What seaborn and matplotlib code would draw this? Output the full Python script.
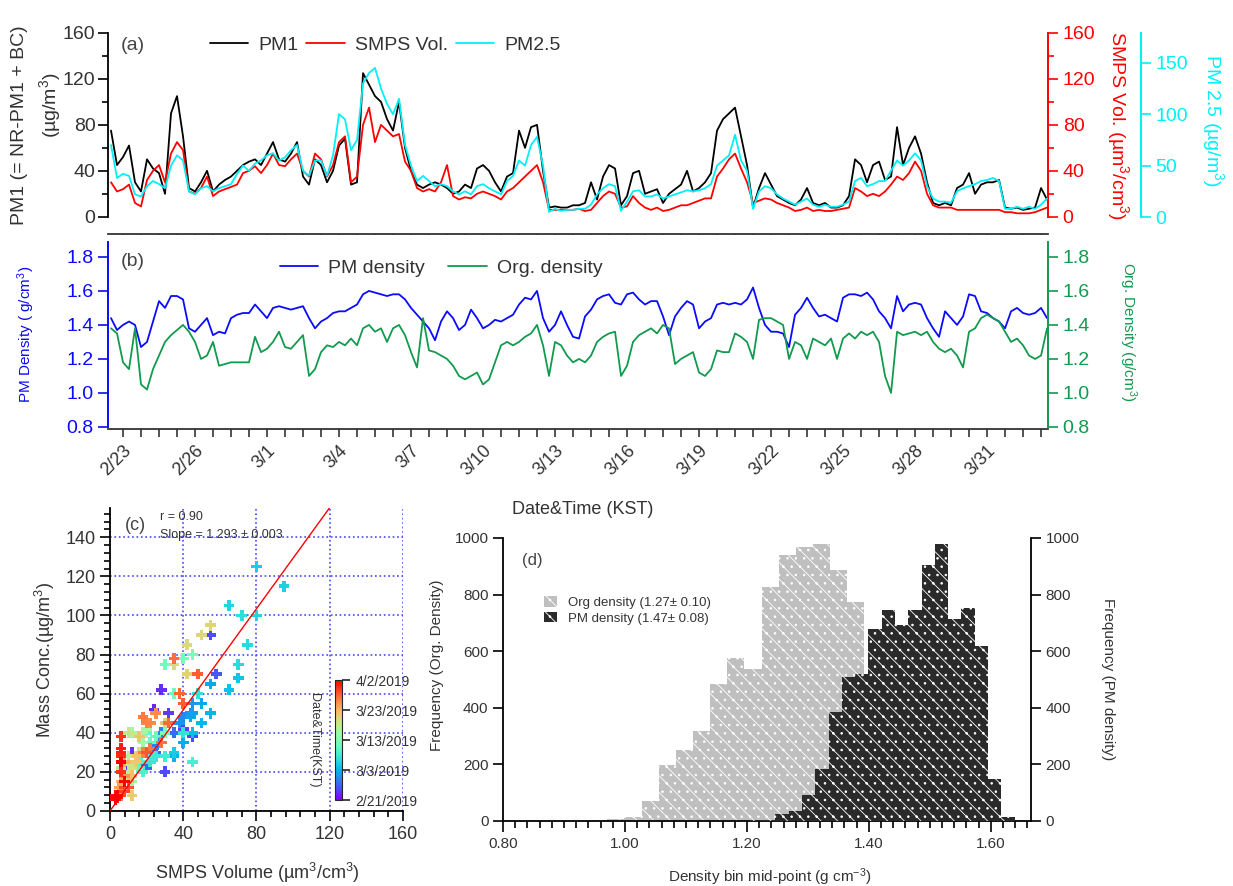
import numpy as np
import pandas as pd
import matplotlib
matplotlib.use("Agg")
import matplotlib.pyplot as plt
import matplotlib.dates as mdates
from matplotlib.ticker import MultipleLocator, FixedLocator
from matplotlib.patches import Patch
from matplotlib.lines import Line2D
from matplotlib.colors import Normalize
from matplotlib.cm import ScalarMappable
import seaborn as sns

sns.set_theme(style="ticks")
plt.rcParams["font.family"] = ["Liberation Sans", "DejaVu Sans"]
plt.rcParams["mathtext.fontset"] = "custom"
plt.rcParams["mathtext.rm"] = "Liberation Sans"
plt.rcParams["mathtext.default"] = "regular"
plt.rcParams["hatch.linewidth"] = 0.6

# 6-hourly readings, 2/22 12:00 -> 4/2 12:00 (KST)
times = pd.date_range("2019-02-22 12:00", periods=157, freq="6h")

pm1 = [75, 45, 52, 62, 30, 22, 50, 42, 38, 20,
       90, 105, 70, 25, 22, 30, 40, 22, 28, 32,
       35, 40, 45, 48, 50, 45, 55, 65, 50, 48,
       55, 65, 35, 28, 50, 45, 30, 40, 62, 68,
       28, 30, 125, 115, 105, 100, 85, 75, 100, 60,
       40, 28, 25, 28, 30, 28, 25, 20, 22, 28,
       25, 42, 45, 40, 30, 22, 35, 38, 75, 60,
       78, 80, 40, 8, 9, 8, 8, 10, 10,
       12, 30, 15, 35, 45, 42, 10, 18, 38, 40,
       20, 22, 24, 12, 20, 24, 28, 40, 22, 25,
       30, 38, 75, 85, 90, 95, 70, 45, 8, 25,
       38, 28, 18, 15, 12, 10, 15, 25, 12, 10,
       12, 8, 8, 10, 18, 50, 45, 30, 45, 48,
       32, 35, 78, 45, 60, 70, 55, 30, 12, 10,
       12, 10, 25, 28, 38, 20, 28, 30, 30, 32,
       8, 7, 8, 6, 7, 8, 25, 15]

smps_vol = [30, 22, 24, 28, 12, 9, 32, 40, 45, 30,
            55, 65, 58, 22, 20, 25, 35, 18, 22, 24,
            26, 28, 38, 40, 44, 38, 45, 55, 45, 44,
            50, 55, 40, 35, 55, 50, 35, 45, 65, 70,
            30, 35, 80, 95, 65, 80, 75, 70, 72, 48,
            40, 25, 22, 24, 22, 30, 45, 18, 15, 17,
            16, 20, 22, 20, 18, 15, 22, 25, 30, 35,
            40, 45, 30, 6, 6, 6, 6, 6, 7,
            5, 6, 12, 18, 22, 20, 8, 9, 18, 12,
            8, 6, 8, 5, 6, 8, 10, 10, 12, 14,
            16, 16, 35, 42, 50, 55, 42, 30, 12, 14,
            16, 15, 12, 10, 8, 5, 6, 8, 5, 6,
            5, 5, 6, 7, 8, 25, 22, 18, 20, 18,
            22, 28, 35, 32, 38, 48, 40, 20, 10, 8,
            8, 8, 6, 6, 6, 6, 6, 6, 6, 6,
            4, 4, 3, 3, 3, 4, 6, 8]

pm25 = [70, 38, 42, 40, 22, 20, 30, 35, 32, 28,
        50, 60, 55, 25, 22, 28, 30, 25, 28, 30,
        32, 42, 50, 45, 52, 55, 60, 62, 55, 58,
        65, 70, 45, 40, 55, 55, 40, 60, 100, 95,
        65, 75, 130, 140, 145, 125, 110, 100, 115, 70,
        50, 35, 40, 35, 30, 32, 30, 25, 22, 25,
        22, 30, 32, 28, 25, 22, 35, 40, 55, 50,
        70, 78, 50, 5, 8, 6, 7, 7, 8,
        8, 12, 22, 28, 32, 30, 6, 15, 25, 26,
        20, 20, 22, 18, 20, 22, 24, 26, 25, 26,
        28, 32, 50, 55, 60, 80, 55, 45, 8, 25,
        30, 28, 22, 18, 15, 12, 15, 18, 12, 10,
        12, 10, 10, 12, 15, 35, 38, 30, 32, 35,
        35, 45, 55, 50, 55, 62, 55, 30, 18, 15,
        15, 14, 25, 28, 30, 32, 35, 36, 38, 35,
        8, 8, 10, 8, 10, 8, 12, 18]

pm_density = [1.44, 1.37, 1.40, 1.42, 1.40, 1.27, 1.30, 1.42, 1.54, 1.50,
              1.57, 1.57, 1.55, 1.38, 1.36, 1.40, 1.44, 1.34, 1.36, 1.35,
              1.44, 1.46, 1.47, 1.47, 1.52, 1.48, 1.44, 1.50, 1.51, 1.50,
              1.49, 1.50, 1.51, 1.44, 1.38, 1.42, 1.44, 1.47, 1.48, 1.48,
              1.50, 1.52, 1.58, 1.60, 1.59, 1.58, 1.57, 1.58, 1.58, 1.55,
              1.50, 1.46, 1.42, 1.38, 1.31, 1.42, 1.48, 1.44, 1.37, 1.40,
              1.49, 1.44, 1.38, 1.40, 1.43, 1.42, 1.44, 1.46, 1.52, 1.56,
              1.55, 1.60, 1.44, 1.36, 1.40, 1.48, 1.40, 1.33, 1.32,
              1.45, 1.49, 1.55, 1.57, 1.58, 1.53, 1.52, 1.58, 1.59, 1.55,
              1.52, 1.54, 1.54, 1.45, 1.34, 1.45, 1.50, 1.54, 1.52, 1.38,
              1.42, 1.44, 1.52, 1.53, 1.52, 1.53, 1.52, 1.55, 1.62, 1.50,
              1.40, 1.36, 1.36, 1.35, 1.27, 1.46, 1.50, 1.56, 1.50, 1.45,
              1.46, 1.44, 1.42, 1.56, 1.58, 1.58, 1.57, 1.59, 1.55, 1.48,
              1.44, 1.38, 1.57, 1.48, 1.52, 1.53, 1.52, 1.44, 1.38, 1.33,
              1.48, 1.44, 1.40, 1.45, 1.58, 1.57, 1.48, 1.47, 1.44, 1.42,
              1.38, 1.48, 1.50, 1.47, 1.46, 1.47, 1.50, 1.44]

org_density = [1.38, 1.35, 1.18, 1.14, 1.38, 1.05, 1.02, 1.14, 1.22, 1.30,
               1.34, 1.37, 1.40, 1.36, 1.30, 1.20, 1.22, 1.30, 1.16, 1.17,
               1.18, 1.18, 1.18, 1.18, 1.33, 1.24, 1.26, 1.30, 1.36, 1.27,
               1.26, 1.30, 1.34, 1.10, 1.14, 1.24, 1.28, 1.27, 1.30, 1.28,
               1.32, 1.28, 1.38, 1.40, 1.36, 1.38, 1.30, 1.38, 1.40, 1.34,
               1.24, 1.15, 1.44, 1.25, 1.24, 1.22, 1.20, 1.16, 1.10, 1.08,
               1.10, 1.12, 1.05, 1.08, 1.18, 1.28, 1.30, 1.28, 1.30, 1.33,
               1.35, 1.40, 1.28, 1.10, 1.30, 1.28, 1.22, 1.18, 1.20,
               1.18, 1.22, 1.30, 1.33, 1.35, 1.36, 1.10, 1.16, 1.30, 1.34,
               1.36, 1.38, 1.35, 1.40, 1.38, 1.17, 1.20, 1.22, 1.24, 1.12,
               1.10, 1.14, 1.25, 1.24, 1.24, 1.35, 1.33, 1.30, 1.20, 1.43,
               1.44, 1.44, 1.42, 1.40, 1.20, 1.30, 1.28, 1.20, 1.32, 1.30,
               1.28, 1.32, 1.20, 1.32, 1.35, 1.32, 1.36, 1.34, 1.36, 1.30,
               1.10, 1.00, 1.36, 1.34, 1.35, 1.36, 1.34, 1.36, 1.30, 1.26,
               1.24, 1.26, 1.22, 1.15, 1.36, 1.38, 1.44, 1.46, 1.44, 1.42,
               1.36, 1.30, 1.32, 1.28, 1.22, 1.20, 1.22, 1.38]

# histogram counts (panel d)
org_bin_start, org_bin_width = 0.971, 0.0281
org_counts = [8, 14, 70, 197, 250, 318, 483, 577, 538, 827, 939, 968, 980, 886, 774]
pm_bin_start, pm_bin_width = 1.203, 0.0218
pm_counts = [3, 3, 24, 34, 91, 183, 385, 510, 520, 677, 744, 691, 744, 906, 980,
             713, 753, 618, 150, 14]

slope, slope_err, r_val = 1.293, 0.003, 0.90
cbar_dates = ["2019-02-21", "2019-03-03", "2019-03-13", "2019-03-23", "2019-04-02"]

TXT = "#333333"
BLUE = "#0a0aff"
GREEN = "#129a4e"
CYAN = "#00f0f8"
W, H = 1233, 886


def fx(px):
    return px / W


def fy(py):
    return 1 - py / H


fig = plt.figure(figsize=(12.33, 8.86), dpi=100)
ax_a = fig.add_axes([0.0876, 0.7359, 0.7624, 0.2269])
ax_b = fig.add_axes([0.0876, 0.5158, 0.7624, 0.219])
ax_c = fig.add_axes([0.0892, 0.0847, 0.2376, 0.342])
ax_d = fig.add_axes([0.408, 0.0734, 0.4282, 0.3194])

xmin, xmax = pd.Timestamp("2019-02-22 09:00"), pd.Timestamp("2019-04-02 13:00")
d0 = pd.Timestamp("2019-02-23")
major_days = [d0 + pd.Timedelta(days=3 * k) for k in range(13)]
minor_days = [d0 + pd.Timedelta(hours=18 * k) for k in range(52)]
major_num = mdates.date2num(major_days)
minor_num = mdates.date2num(minor_days)

# ---------------- panel (a)
sns.lineplot(x=times, y=pm1, ax=ax_a, color="black", lw=1.3, estimator=None)
ax_a.set_xlim(xmin, xmax)
ax_a.set_ylim(-15, 160)
ax_a.spines[["top", "right"]].set_visible(False)
ax_a.spines["left"].set_bounds(0, 160)
ax_a.spines["left"].set_linewidth(1.3)
ax_a.spines["left"].set_color("black")
ax_a.spines["bottom"].set_color(TXT)
ax_a.spines["bottom"].set_linewidth(1.3)
ax_a.set_yticks([0, 40, 80, 120, 160])
ax_a.yaxis.set_minor_locator(MultipleLocator(20))
ax_a.set_xticks(major_num)
ax_a.xaxis.set_minor_locator(FixedLocator(minor_num))
ax_a.tick_params(axis="x", which="both", direction="out", length=6, width=1.2,
                 labelbottom=False, color=TXT)
ax_a.tick_params(axis="y", which="both", direction="out", width=1.2, labelsize=14,
                 labelcolor=TXT, color="black", pad=2)
ax_a.tick_params(axis="y", which="major", length=7)
ax_a.tick_params(axis="y", which="minor", length=4)
ax_a.set_xlabel("")
ax_a.set_ylabel("")

ax_r = ax_a.twinx()
sns.lineplot(x=times, y=smps_vol, ax=ax_r, color="red", lw=1.3, estimator=None)
ax_r.set_ylim(-15, 160)
ax_r.spines[["top", "left", "bottom"]].set_visible(False)
ax_r.spines["right"].set_bounds(0, 160)
ax_r.spines["right"].set_color("red")
ax_r.spines["right"].set_linewidth(1.4)
ax_r.set_yticks([0, 40, 80, 120, 160])
ax_r.yaxis.set_minor_locator(MultipleLocator(20))
ax_r.tick_params(axis="y", which="both", direction="out", width=1.2, labelsize=14,
                 colors="red")
ax_r.tick_params(axis="y", which="major", length=7)
ax_r.tick_params(axis="y", which="minor", length=4)
ax_r.set_ylabel("")

ax_p = ax_a.twinx()
sns.lineplot(x=times, y=pm25, ax=ax_p, color=CYAN, lw=1.3, estimator=None)
ax_p.set_ylim(-16.5, 179)
ax_p.spines[["top", "left", "bottom"]].set_visible(False)
ax_p.spines["right"].set_position(("axes", 1.099))
ax_p.spines["right"].set_bounds(0, 179)
ax_p.spines["right"].set_color(CYAN)
ax_p.spines["right"].set_linewidth(1.4)
ax_p.set_yticks([0, 50, 100, 150])
ax_p.tick_params(axis="y", which="both", direction="out", width=1.2, length=7,
                 labelsize=14, colors=CYAN)
ax_p.set_ylabel("")
ax_p.set_xlim(xmin, xmax)

fig.legend([Line2D([], [], color="black", lw=1.3), Line2D([], [], color="red", lw=1.3),
            Line2D([], [], color=CYAN, lw=1.3)],
           ["PM1", "SMPS Vol.", "PM2.5"], ncol=3, loc="center left",
           bbox_to_anchor=(fx(192), fy(45)), frameon=False, fontsize=14,
           handlelength=2.0, columnspacing=0.4, handletextpad=0.5,
           labelcolor=TXT)

fig.text(fx(20), fy(125), "PM1 (= NR-PM1 + BC)", rotation=90, ha="center",
         va="center", fontsize=14, color=TXT)
fig.text(fx(50), fy(105), "(µg/m$^3$)", rotation=90, ha="center", va="center",
         fontsize=14, color=TXT)
fig.text(fx(1118), fy(125), "SMPS Vol. (µm$^3$/cm$^3$)", rotation=270, ha="center",
         va="center", fontsize=14, color="red")
fig.text(fx(1213), fy(120), "PM 2.5 (µg/m$^3$)", rotation=270, ha="center",
         va="center", fontsize=14, color=CYAN)
fig.text(fx(121), fy(45), "(a)", ha="left", va="center", fontsize=14, color="#444444")

# ---------------- panel (b)
sns.lineplot(x=times, y=pm_density, ax=ax_b, color=BLUE, lw=1.3, estimator=None)
ax_b.set_xlim(xmin, xmax)
ax_b.set_ylim(0.788, 1.929)
ax_b.spines[["top", "right"]].set_visible(False)
ax_b.spines["left"].set_bounds(0.8, 1.888)
ax_b.spines["left"].set_color(BLUE)
ax_b.spines["left"].set_linewidth(1.4)
ax_b.spines["bottom"].set_color(TXT)
ax_b.spines["bottom"].set_linewidth(1.3)
ax_b.set_yticks([0.8, 1.0, 1.2, 1.4, 1.6, 1.8])
ax_b.yaxis.set_major_formatter(plt.FuncFormatter(lambda v, p: f"{v:.1f}"))
ax_b.tick_params(axis="y", direction="out", length=7, width=1.2, labelsize=14,
                 colors=BLUE)
ax_b.set_xticks(major_num, labels=[f"{d.month}/{d.day}" for d in major_days])
ax_b.xaxis.set_minor_locator(FixedLocator(minor_num))
ax_b.tick_params(axis="x", which="both", direction="out", length=6, width=1.2,
                 color=TXT, labelsize=13, labelcolor=TXT)
for lab in ax_b.get_xticklabels():
    lab.set_rotation(45)
    lab.set_ha("right")
    lab.set_rotation_mode("anchor")
ax_b.set_xlabel("")
ax_b.set_ylabel("")

ax_o = ax_b.twinx()
sns.lineplot(x=times, y=org_density, ax=ax_o, color=GREEN, lw=1.3, estimator=None)
ax_o.set_ylim(0.788, 1.929)
ax_o.spines[["top", "left", "bottom"]].set_visible(False)
ax_o.spines["right"].set_bounds(0.8, 1.888)
ax_o.spines["right"].set_color(GREEN)
ax_o.spines["right"].set_linewidth(1.4)
ax_o.set_yticks([0.8, 1.0, 1.2, 1.4, 1.6, 1.8])
ax_o.yaxis.set_major_formatter(plt.FuncFormatter(lambda v, p: f"{v:.1f}"))
ax_o.tick_params(axis="y", direction="out", length=7, width=1.2, labelsize=14,
                 colors=GREEN)
ax_o.set_ylabel("")
ax_o.set_xlim(xmin, xmax)

fig.legend([Line2D([], [], color=BLUE, lw=1.3), Line2D([], [], color=GREEN, lw=1.3)],
           ["PM density", "Org. density"], ncol=2, loc="center left",
           bbox_to_anchor=(fx(262), fy(268)), frameon=False, fontsize=14,
           handlelength=2.0, columnspacing=1.2, handletextpad=0.5, labelcolor=TXT)

fig.text(fx(26), fy(334), "PM Density ( g/cm$^3$)", rotation=90, ha="center",
         va="center", fontsize=11, color=BLUE)
fig.text(fx(1128), fy(332), "Org. Density (g/cm$^3$)", rotation=270, ha="center",
         va="center", fontsize=11, color=GREEN)
fig.text(fx(121), fy(262), "(b)", ha="left", va="center", fontsize=14, color="#444444")
fig.text(fx(583), fy(510), "Date&Time (KST)", ha="center", va="center", fontsize=13,
         color=TXT)

# ---------------- panel (c)
date_num = mdates.date2num(times)
n0, n1 = mdates.date2num(pd.to_datetime(cbar_dates[0])), mdates.date2num(pd.to_datetime(cbar_dates[-1]))
sns.scatterplot(x=smps_vol, y=pm1, hue=date_num, palette="rainbow", hue_norm=(n0, n1),
                marker="P", s=60, linewidth=0, legend=False, ax=ax_c, zorder=3)
fit_x = np.array([0, 120])
ax_c.plot(fit_x, slope * fit_x, color="red", lw=1.0, zorder=4)
ax_c.set_xlim(0, 160)
ax_c.set_ylim(0, 155)
ax_c.spines[["top", "right"]].set_visible(False)
for s in ["left", "bottom"]:
    ax_c.spines[s].set_color("black")
    ax_c.spines[s].set_linewidth(1.3)
ax_c.set_xticks([0, 40, 80, 120, 160])
ax_c.set_yticks([0, 20, 40, 60, 80, 100, 120, 140])
ax_c.xaxis.set_minor_locator(MultipleLocator(8))
ax_c.yaxis.set_minor_locator(MultipleLocator(4))
ax_c.tick_params(which="both", direction="out", width=1.2, labelsize=13,
                 labelcolor=TXT, color="black")
ax_c.tick_params(which="major", length=7)
ax_c.tick_params(which="minor", length=4)
ax_c.grid(True, which="major", color="#4646ff", ls=":", lw=1.2)
ax_c.set_xlabel("")
ax_c.set_ylabel("")

fig.text(fx(257), fy(873), "SMPS Volume (µm$^3$/cm$^3$)", ha="center", va="center",
         fontsize=13, color=TXT)
fig.text(fx(45), fy(660), "Mass Conc.(µg/m$^3$)", rotation=90, ha="center",
         va="center", fontsize=13, color=TXT)
fig.text(fx(125), fy(525), "(c)", ha="left", va="center", fontsize=13, color="#444444")
fig.text(fx(160), fy(517), f"r = {r_val:.2f}", ha="left", va="center", fontsize=9,
         color=TXT)
fig.text(fx(160), fy(535), f"Slope = {slope:.3f} ± {slope_err:.3f}", ha="left",
         va="center", fontsize=9, color=TXT)

cax = fig.add_axes([fx(335), fy(800), fx(7), 120 / H])
sm = ScalarMappable(norm=Normalize(n0, n1), cmap="rainbow")
cb = fig.colorbar(sm, cax=cax)
cb.set_ticks(mdates.date2num(pd.to_datetime(cbar_dates)))
cb.set_ticklabels([f"{d.month}/{d.day}/{d.year}" for d in pd.to_datetime(cbar_dates)])
cb.ax.tick_params(labelsize=10, length=6, width=1.2, labelcolor=TXT)
cb.outline.set_linewidth(0.8)
fig.text(fx(314), fy(740), "Date&Time(KST)", rotation=270, ha="center", va="center",
         fontsize=9, color=TXT)

# ---------------- panel (d)
org_edges = [org_bin_start + org_bin_width * k for k in range(len(org_counts) + 1)]
pm_edges = [pm_bin_start + pm_bin_width * k for k in range(len(pm_counts) + 1)]
org_df = pd.DataFrame({"mid": [(a + b) / 2 for a, b in zip(org_edges[:-1], org_edges[1:])],
                       "count": org_counts})
pm_df = pd.DataFrame({"mid": [(a + b) / 2 for a, b in zip(pm_edges[:-1], pm_edges[1:])],
                      "count": pm_counts})

GRAY, DARK = "#bfbfbf", "#2a2a2a"
HATCH = "\\\\.."
sns.histplot(data=org_df, x="mid", weights="count", bins=org_edges, ax=ax_d,
             color=GRAY, alpha=1, edgecolor="white", linewidth=0, hatch=HATCH)
ax_d2 = ax_d.twinx()
sns.histplot(data=pm_df, x="mid", weights="count", bins=pm_edges, ax=ax_d2,
             color=DARK, alpha=1, edgecolor="white", linewidth=0, hatch=HATCH)
for a in (ax_d, ax_d2):
    a.set_xlim(0.8, 1.666)
    a.set_ylim(0, 1000)
    a.set_yticks([0, 200, 400, 600, 800, 1000])
    a.set_ylabel("")
    a.set_xlabel("")
    a.spines["top"].set_visible(False)
    a.tick_params(axis="y", direction="out", length=7, width=1.2, labelsize=11,
                  labelcolor=TXT, color="black")
ax_d.spines["right"].set_visible(False)
ax_d2.spines[["left", "bottom"]].set_visible(False)
ax_d.spines["left"].set_color("black")
ax_d.spines["bottom"].set_color("black")
ax_d2.spines["right"].set_color("black")
for s in ["left", "bottom"]:
    ax_d.spines[s].set_linewidth(1.3)
ax_d2.spines["right"].set_linewidth(1.3)
ax_d.set_xticks([0.8, 1.0, 1.2, 1.4, 1.6])
ax_d.xaxis.set_major_formatter(plt.FuncFormatter(lambda v, p: f"{v:.2f}"))
ax_d.xaxis.set_minor_locator(MultipleLocator(0.02))
ax_d.tick_params(axis="x", which="both", direction="out", width=1.2, labelsize=11,
                 labelcolor=TXT, color="black")
ax_d.tick_params(axis="x", which="major", length=8)
ax_d.tick_params(axis="x", which="minor", length=5)

ax_d2.legend([Patch(facecolor=GRAY, edgecolor="white", hatch=HATCH, lw=0),
              Patch(facecolor=DARK, edgecolor="white", hatch=HATCH, lw=0)],
             ["Org density (1.27± 0.10)", "PM density (1.47± 0.08)"],
             loc="upper left", bbox_to_anchor=(fx(532), fy(584)),
             bbox_transform=fig.transFigure, frameon=False, fontsize=9.5,
             handlelength=1.0, handleheight=0.9, handletextpad=0.8, labelspacing=0.2,
             labelcolor=TXT)

fig.text(fx(770), fy(877), "Density bin mid-point (g cm$^{-3}$)", ha="center",
         va="center", fontsize=11, color=TXT)
fig.text(fx(437), fy(665), "Frequency (Org. Density)", rotation=90, ha="center",
         va="center", fontsize=11, color=TXT)
fig.text(fx(1108), fy(679), "Frequency (PM density)", rotation=270, ha="center",
         va="center", fontsize=11, color=TXT)
fig.text(fx(522), fy(560), "(d)", ha="left", va="center", fontsize=12, color="#444444")

fig.savefig("out.png", dpi=100)
